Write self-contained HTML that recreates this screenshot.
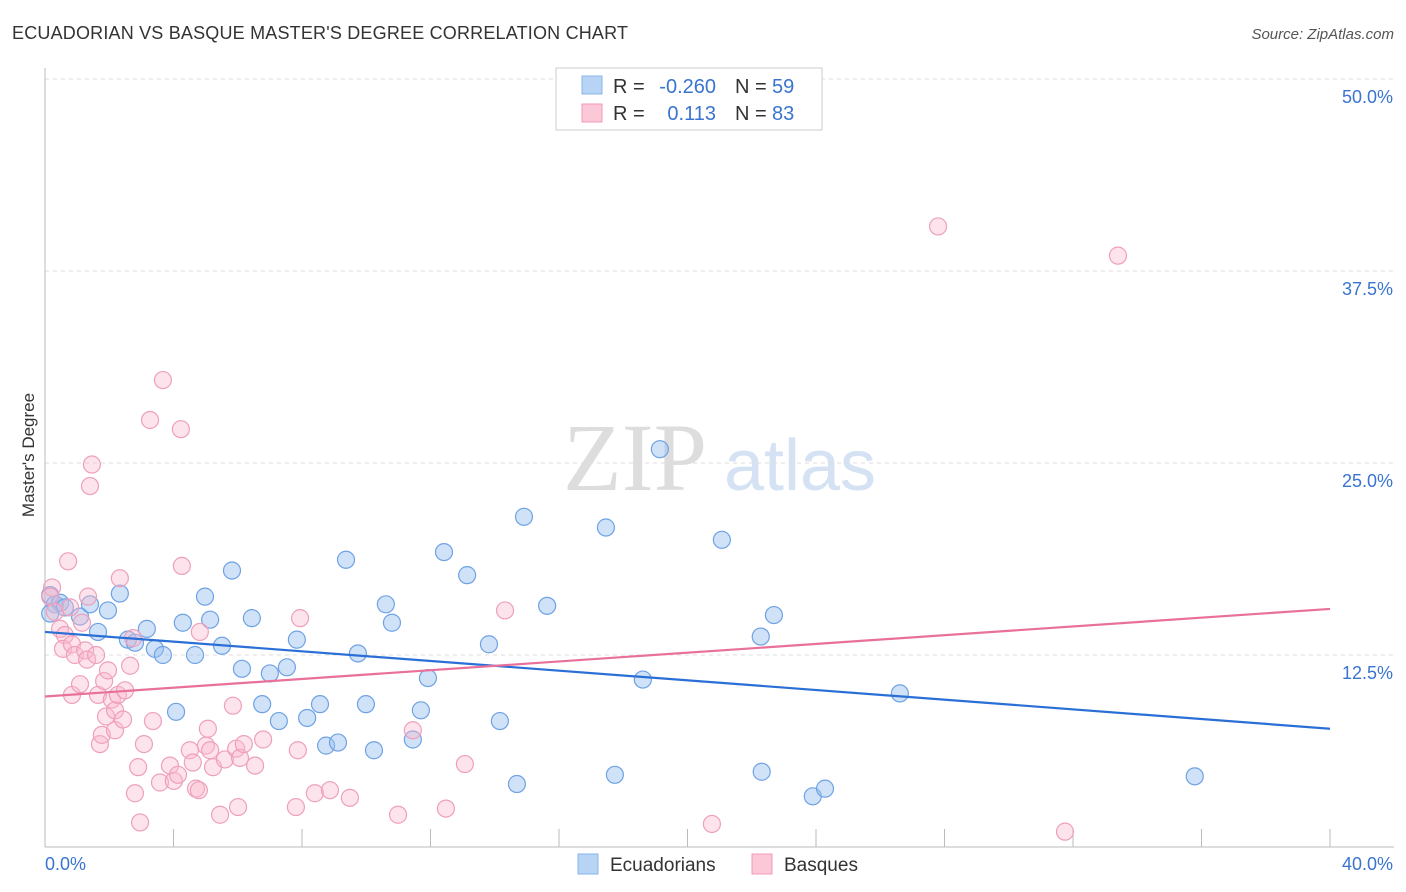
<!DOCTYPE html>
<html><head><meta charset="utf-8"><style>
body{margin:0;background:#fff;font-family:"Liberation Sans",sans-serif;}
svg{display:block}
</style></head><body>
<svg width="1406" height="892" xmlns="http://www.w3.org/2000/svg">
<text x="12" y="39" font-size="18" fill="#333" textLength="616">ECUADORIAN VS BASQUE MASTER'S DEGREE CORRELATION CHART</text>
<text x="1394" y="39" font-size="15" fill="#555" font-style="italic" text-anchor="end">Source: ZipAtlas.com</text>
<g>
<text x="635" y="490" font-size="96" fill="#ddd" font-family="Liberation Serif" text-anchor="middle">ZIP</text>
<text x="800" y="490" font-size="72" fill="#d4e2f4" text-anchor="middle">atlas</text>
</g>
<g id="grid"></g>
<g id="axes"></g>
<g id="pts"></g>
<g id="lines"></g>
<text x="34" y="455" font-size="17" fill="#333" text-anchor="middle" transform="rotate(-90 34 455)">Master's Degree</text>
<g>
<rect x="556" y="68" width="266" height="62" fill="#fff" stroke="#ccc"/>
<rect x="582" y="76" width="20" height="18" fill="#b8d4f5" stroke="#8ab4ea"/>
<rect x="582" y="104" width="20" height="18" fill="#fbc8d8" stroke="#f09ab8"/>
<text x="613" y="93" font-size="20" fill="#333">R =</text>
<text x="716" y="93" font-size="20" fill="#3a74d0" text-anchor="end">-0.260</text>
<text x="735" y="93" font-size="20" fill="#333">N =</text>
<text x="772" y="93" font-size="20" fill="#3a74d0">59</text>
<text x="613" y="120" font-size="20" fill="#333">R =</text>
<text x="716" y="120" font-size="20" fill="#3a74d0" text-anchor="end">0.113</text>
<text x="735" y="120" font-size="20" fill="#333">N =</text>
<text x="772" y="120" font-size="20" fill="#3a74d0">83</text>
</g>
<g>
<rect x="578" y="854" width="20" height="20" fill="#b8d4f5" stroke="#8ab4ea"/>
<text x="610" y="871" font-size="19" fill="#333">Ecuadorians</text>
<rect x="752" y="854" width="20" height="20" fill="#fbc8d8" stroke="#f09ab8"/>
<text x="784" y="871" font-size="19" fill="#333">Basques</text>
</g>
</svg>
<script>
const yTicks=[12.5,25,37.5,50];
const yTickLabels=["12.5%","25.0%","37.5%","50.0%"];
const xTickLabels=["0.0%","40.0%"];
const blueX=[0.16,0.31,0.47,0.62,0.16,1.09,1.40,1.65,1.96,2.33,2.58,2.80,3.17,3.42,3.67,4.08,4.29,4.67,4.98,5.14,5.51,5.82,6.13,6.44,6.76,7.00,7.28,7.53,7.84,8.16,8.56,8.75,9.12,9.37,9.74,9.99,10.24,10.61,10.80,11.45,11.70,11.92,12.42,13.14,13.82,14.16,14.69,14.91,15.63,17.46,17.74,18.61,19.14,21.07,22.31,22.28,22.69,23.90,24.28,26.61,35.79];
const blueY=[16.4,15.8,15.9,15.6,15.2,15.0,15.8,14.0,15.4,16.5,13.5,13.3,14.2,12.9,12.5,8.8,14.6,12.5,16.3,14.8,13.1,18.0,11.6,14.9,9.3,11.3,8.2,11.7,13.5,8.4,9.3,6.6,6.8,18.7,12.6,9.3,6.3,15.8,14.6,7.0,8.9,11.0,19.2,17.7,13.2,8.2,4.1,21.5,15.7,20.8,4.7,10.9,25.9,20.0,4.9,13.7,15.1,3.3,3.8,10.0,4.6];
const pinkX=[0.22,0.16,0.31,0.47,0.62,0.72,0.78,0.56,0.84,0.93,0.84,1.09,1.15,1.25,1.31,1.46,1.40,1.34,1.59,1.65,1.71,1.77,1.84,1.90,1.96,2.08,2.18,2.18,2.27,2.33,2.43,2.49,2.65,2.74,2.80,2.90,2.96,3.08,3.27,3.36,3.58,3.67,3.89,4.01,4.14,4.26,4.23,4.51,4.60,4.70,4.79,4.82,5.01,5.07,5.14,5.23,5.45,5.60,5.85,5.95,6.01,6.07,6.19,6.54,6.79,7.81,7.87,7.94,8.40,8.87,9.49,10.99,11.45,12.48,13.07,14.32,20.76,27.80,33.40,31.75];
const pinkY=[16.9,16.3,15.3,14.2,13.8,18.6,15.6,12.9,13.2,12.5,9.9,10.6,14.6,12.8,12.2,24.9,23.5,16.3,12.5,9.9,6.7,7.3,10.8,8.5,11.5,9.6,8.9,7.6,9.9,17.5,8.3,10.2,11.8,13.6,3.5,5.2,1.6,6.7,27.8,8.2,4.2,30.4,5.3,4.3,4.7,18.3,27.2,6.3,5.5,3.8,3.7,14.0,6.6,7.7,6.3,5.2,2.1,5.7,9.2,6.4,2.6,5.8,6.7,5.3,7.0,2.6,6.3,14.9,3.5,3.7,3.2,2.1,7.6,2.5,5.4,15.4,1.5,40.4,38.5,1.0];
const blueLine=[14.0,7.7];
const pinkLine=[9.8,15.5];
const NS='http://www.w3.org/2000/svg';
const X0=45,X1=1330,Y0=847,PPY=192/12.5;
const xs=v=>X0+v/40*(X1-X0);
const ys=v=>Y0-v*PPY;
function mk(t,a,p){const e=document.createElementNS(NS,t);for(const k in a)e.setAttribute(k,a[k]);p.appendChild(e);return e;}
const grid=document.getElementById('grid'),axes=document.getElementById('axes');
yTicks.forEach((t,i)=>{
 const l=mk('line',{x1:X0,x2:1394,y1:ys(t),y2:ys(t),stroke:'#ddd','stroke-dasharray':'4,4'},grid);
 
 
 const tx=mk('text',{x:1393,y:ys(t)+24,'font-size':18,fill:'#3a74d0','text-anchor':'end'},axes);
 tx.textContent=yTickLabels[i];
 
 
});
const ax=mk('line',{x1:X0,x2:X0,y1:68,y2:Y0,stroke:'#bbb'},axes);


const bx=mk('line',{x1:X0,x2:1394,y1:Y0,y2:Y0,stroke:'#bbb'},axes);


for(let i=0;i<=10;i++){const tk=mk('line',{x1:xs(i*4),x2:xs(i*4),y1:Y0,y2:Y0-18,stroke:'#bbb'},axes);
 
 }
[[0,'start',45],[40,'end',1393]].forEach((d,i)=>{const tx=mk('text',{x:d[2],y:870,'font-size':18,fill:'#3a74d0','text-anchor':d[1]},axes);tx.textContent=xTickLabels[i];
 
 });
const pts=document.getElementById('pts');
blueX.forEach((v,i)=>{const c=mk('circle',{cx:xs(v),cy:ys(blueY[i]),r:8.5,fill:'rgba(150,190,240,0.45)',stroke:'#6fa2e4','stroke-width':1.2},pts);
 
 });
pinkX.forEach((v,i)=>{const c=mk('circle',{cx:xs(v),cy:ys(pinkY[i]),r:8.5,fill:'rgba(250,185,205,0.4)',stroke:'#eea0bb','stroke-width':1.2},pts);
 
 });
const lines=document.getElementById('lines');
const bl=mk('line',{x1:xs(0),x2:xs(40),y1:ys(blueLine[0]),y2:ys(blueLine[1]),stroke:'#2a6fd6','stroke-width':2.2},lines);


const pl=mk('line',{x1:xs(0),x2:xs(40),y1:ys(pinkLine[0]),y2:ys(pinkLine[1]),stroke:'#e8709a','stroke-width':2.2},lines);


</script>
</body></html>
